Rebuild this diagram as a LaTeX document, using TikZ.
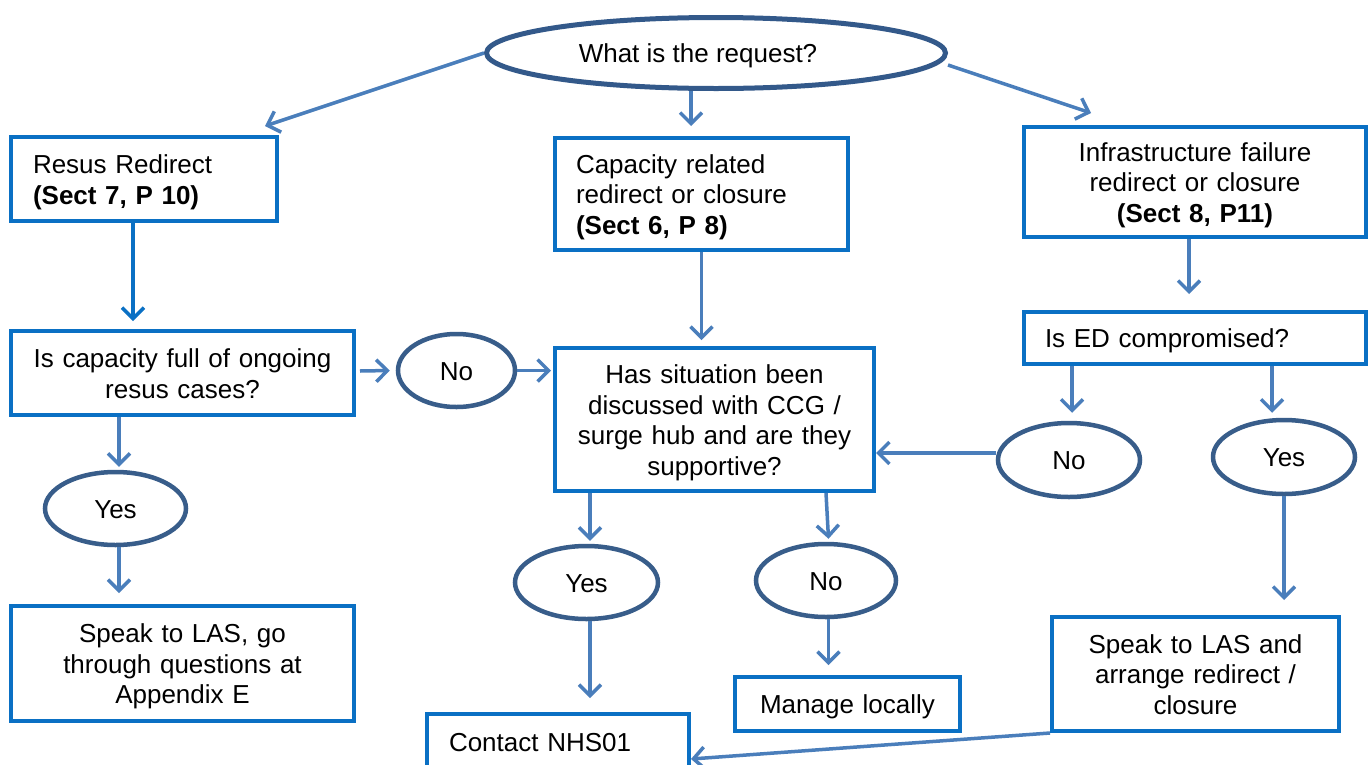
\documentclass[tikz,border=0pt]{standalone}
\usepackage{fontspec}
\setmainfont{Liberation Sans}
\usetikzlibrary{shapes.geometric,arrows.meta}
\definecolor{boxc}{HTML}{0A70C4}
\definecolor{arrc}{HTML}{4A7EBB}
\definecolor{ellc}{HTML}{385D8A}
\definecolor{topc}{HTML}{33598A}
\newcommand\ls{\rule[-5.5pt]{0pt}{30.5pt}}
\tikzset{
  every node/.style={font=\fontsize{26}{30.5}\selectfont, text=black},
  box/.style={draw=boxc, line width=4pt, rectangle, inner ysep=0pt},
  oval/.style={draw=ellc, line width=4.5pt, ellipse, inner sep=0pt},
  arr/.style={draw=arrc, line width=3.5pt, -{Straight Barb[length=11pt,width=22pt]}},
  arrb/.style={arr, draw=boxc},
}
\begin{document}
\begin{tikzpicture}[x=1pt,y=-1pt]
\useasboundingbox (0,0) rectangle (1369,764);
\clip (0,0) rectangle (1369,764);
\fill[white] (0,0) rectangle (1369,764);

% ellipses
\node[oval, draw=topc, line width=5pt, minimum width=459, minimum height=71] (req) at (716,53) {\ls What is the request?\hspace*{36pt}};
\node[oval, minimum width=117, minimum height=73] (no1) at (456.5,370.5) {\ls No};
\node[oval, minimum width=141, minimum height=73] (yes1) at (115.5,508.5) {\ls Yes};
\node[oval, minimum width=143, minimum height=73] (yes2) at (586.5,582.5) {\ls Yes};
\node[oval, minimum width=140, minimum height=73] (no2) at (826,580.5) {\ls No};
\node[oval, minimum width=142, minimum height=74] (no3) at (1069,460) {\ls No};
\node[oval, minimum width=142, minimum height=74] (yes3) at (1284,457) {\ls Yes};

% boxes
\node[box, inner xsep=22pt, text width=222pt, align=left, minimum height=84] (resus) at (144,179)
  {\ls Resus Redirect\\\ls\textbf{(Sect 7, P 10)}};
\node[box, inner xsep=21pt, text width=251pt, align=left, minimum height=112] (cap) at (701.5,194)
  {\ls Capacity related\\\ls redirect or closure\\\ls\textbf{(Sect 6, P 8)}};
\node[box, inner xsep=0pt, text width=342pt, align=center, minimum height=110] (infra) at (1195,182)
  {\ls Infrastructure failure\\\ls redirect or closure\\\ls\textbf{(Sect 8, P11)}};
\node[box, inner xsep=0pt, text width=343pt, align=center, minimum height=84] (iscap) at (182.5,373)
  {\ls Is capacity full of ongoing\\\ls resus cases?};
\node[box, inner xsep=0pt, text width=319pt, align=center, minimum height=143] (has) at (714.5,419.5)
  {\ls Has situation been\\\ls discussed with CCG /\\\ls surge hub and are they\\\ls supportive?};
\node[box, inner xsep=0pt, text width=343pt, align=center, minimum height=115] (speak1) at (182.5,663.5)
  {\ls Speak to LAS, go\\\ls through questions at\\\ls Appendix E};
\node[box, inner xsep=22pt, text width=218pt, align=left, minimum height=56] (contact) at (558,742)
  {\ls Contact NHS01};
\node[box, inner xsep=0pt, text width=225pt, align=center, minimum height=54] (manage) at (847.5,704)
  {\ls Manage locally};
\node[box, inner xsep=21pt, text width=300pt, align=left, minimum height=52] (ised) at (1195,338)
  {\ls Is ED compromised?};
\node[box, inner xsep=0pt, text width=287pt, align=center, minimum height=114] (speak2) at (1195.5,674)
  {\ls Speak to LAS and\\\ls arrange redirect /\\\ls closure};

% connectors
\draw[arr] (req.west) -- ([xshift=-14pt,yshift=9pt]resus.north east);
\draw[arr] ([xshift=-25pt]req.south) -- ([xshift=-10.5pt,yshift=10pt]cap.north);
\draw[arr] ([yshift=-12pt]req.east) -- ([xshift=69pt,yshift=12pt]infra.north west);
\draw[arrb] ([xshift=-11pt]resus.south) -- ([xshift=-49.5pt,yshift=8pt]iscap.north);
\draw[arr] ([xshift=-63.5pt]iscap.south) -- ([xshift=3.5pt,yshift=3pt]yes1.north);
\draw[arr] ([xshift=3.5pt]yes1.south) -- ([xshift=-63.5pt,yshift=11pt]speak1.north);
\draw[arr] ([xshift=4pt,yshift=2pt]iscap.east) -- ([xshift=-6pt]no1.west);
\draw[arr] (no1.east) -- ([xshift=-2pt]no1.east -| has.west);
\draw[arr] (cap.south) -- ([yshift=6pt]cap.south |- has.north);
\draw[arr] ([xshift=-124.5pt]has.south) -- ([xshift=3.5pt,yshift=3pt]yes2.north);
\draw[arr] ([xshift=3.5pt]yes2.south) -- ([xshift=32pt,yshift=14pt]contact.north);
\draw[arr] ([xshift=111.5pt]has.south) -- ([xshift=2.5pt,yshift=3pt]no2.north);
\draw[arr] ([xshift=2.5pt]no2.south) -- ([xshift=-19pt,yshift=10pt]manage.north);
\draw[arr] ([xshift=-6pt]infra.south) -- ([xshift=-6pt,yshift=16pt]ised.north);
\draw[arr] ([xshift=-123pt]ised.south) -- ([xshift=3pt,yshift=8pt]no3.north);
\draw[arr] ([xshift=77pt]ised.south) -- ([xshift=-12pt,yshift=5pt]yes3.north);
\draw[arr] (yes3.south) -- ([xshift=88.5pt,yshift=15pt]speak2.north);
\draw[arr] ([yshift=7pt]no3.west) -- ([yshift=7pt]no3.west -| has.east);
\draw[arr] (speak2.south west) -- ([yshift=-17pt]contact.east);
\end{tikzpicture}
\end{document}
